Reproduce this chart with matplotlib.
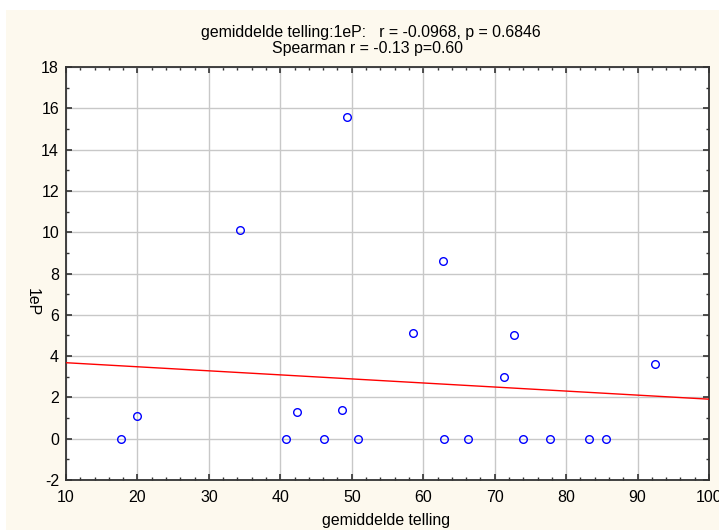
import numpy as np
import matplotlib
matplotlib.use("Agg")
import matplotlib.pyplot as plt
from matplotlib.patches import Rectangle
from matplotlib.ticker import MultipleLocator

plt.rcParams['font.family'] = ['Liberation Sans', 'DejaVu Sans']
plt.rcParams['axes.unicode_minus'] = False

# gemiddelde telling (x) vs 1eP (y)
telling = [17.7, 20.0, 34.4, 40.8, 42.4, 46.1, 48.7, 49.3, 50.9, 58.6,
           62.7, 62.9, 66.2, 71.3, 72.7, 74.0, 77.8, 83.2, 85.6, 92.5]
ep1 = [0.0, 1.1, 10.1, 0.0, 1.3, 0.0, 1.4, 15.6, 0.0, 5.1,
       8.6, 0.0, 0.0, 3.0, 5.0, 0.0, 0.0, 0.0, 0.0, 3.6]

title1 = "gemiddelde telling:1eP:   r = -0.0968, p = 0.6846"
title2 = "Spearman r = -0.13 p=0.60"
xlab = "gemiddelde telling"
ylab = "1eP"

W, H = 719, 530
fig = plt.figure(figsize=(W / 100, H / 100), dpi=100, facecolor="white")
# cream panel (white strip on top and left)
fig.patches.append(Rectangle((6 / W, 0), 1 - 6 / W, 1 - 10 / H,
                             transform=fig.transFigure, facecolor="#FDF9EE",
                             edgecolor="none", zorder=-10))

ax = fig.add_axes([66 / W, 1 - 480 / H, (709 - 66) / W, (480 - 67) / H])
ax.set_facecolor("white")

# regression line
slope, icpt = np.polyfit(telling, ep1, 1)
xs = np.array([10, 100])
ax.plot(xs, icpt + slope * xs, color="red", lw=1.0, zorder=3)

ax.plot(telling, ep1, linestyle="none", marker="o", markersize=5.5,
        markerfacecolor="none", markeredgecolor="blue", markeredgewidth=1.0,
        zorder=4)

ax.set_xlim(10, 100)
ax.set_ylim(-2, 18)
ax.xaxis.set_major_locator(MultipleLocator(10))
ax.xaxis.set_minor_locator(MultipleLocator(2))
ax.yaxis.set_major_locator(MultipleLocator(2))
ax.yaxis.set_minor_locator(MultipleLocator(1))
ax.grid(True, which="major", color="#C8C8C8", lw=1.0, zorder=0)
ax.set_axisbelow(True)

ax.tick_params(which="both", direction="in", top=True, right=True,
               color="#333333", labelsize=11.5)
ax.tick_params(which="major", length=4, width=1.2)
ax.tick_params(which="minor", length=2.5, width=1.0)
ax.tick_params(axis="x", pad=7)
ax.tick_params(axis="y", pad=5)
for s in ax.spines.values():
    s.set_color("#333333")
    s.set_linewidth(1.3)

fs = 11.4
fig.text(371 / W, 1 - 37 / H, title1, ha="center", va="baseline", fontsize=fs)
fig.text(368 / W, 1 - 53 / H, title2, ha="center", va="baseline", fontsize=fs)
fig.text(386 / W, 1 - 521 / H, xlab, ha="center", va="center", fontsize=fs)
fig.text(32 / W, 1 - 302 / H, ylab, ha="center", va="center", fontsize=fs,
         rotation=270)

fig.savefig("out.png", dpi=100, facecolor=fig.get_facecolor())
